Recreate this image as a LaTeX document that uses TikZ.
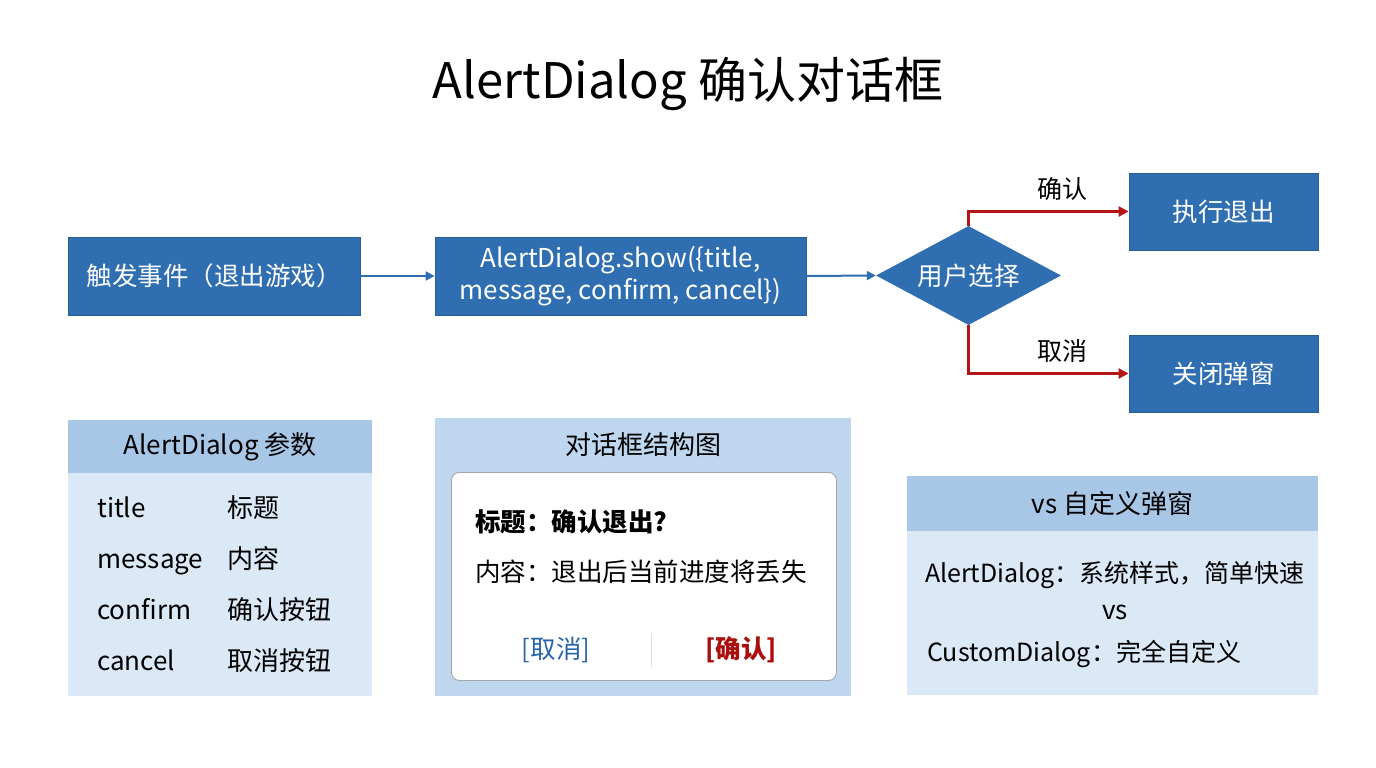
\documentclass[tikz,border=0pt]{standalone}
\usepackage{fontspec}
\setmainfont{Noto Sans CJK SC}
\usetikzlibrary{shapes.geometric,arrows.meta}
\definecolor{boxblue}{RGB}{47,110,176}
\definecolor{hdrblue}{RGB}{168,199,230}
\definecolor{bodyblue}{RGB}{219,232,245}
\definecolor{midblue}{RGB}{190,215,238}
\definecolor{arrred}{RGB}{180,20,20}
\definecolor{btnblue}{RGB}{40,100,170}
\definecolor{btnred}{RGB}{170,15,15}
\newcommand{\fs}[1]{\fontsize{#1pt}{\dimexpr#1pt*6/5\relax}\selectfont}
\tikzset{
  flowbox/.style={draw=boxblue!85!black, line width=0.8pt, fill=boxblue, text=white, font=\fs{25.5}, inner sep=0pt, align=center},
  decide/.style={diamond, aspect=1.87, fill=boxblue, text=white, font=\fs{25.5}, inner sep=0pt, minimum width=185pt, minimum height=99pt},
  blueline/.style={draw=boxblue, line width=2pt, -{Triangle[length=9pt,width=9pt]}},
  redline/.style={draw=arrred, line width=2.4pt, -{Triangle[length=10pt,width=10pt]}},
  lbl/.style={font=\fs{25}, text=black, inner sep=0pt},
  txt/.style={font=\fs{26}, text=black, inner sep=0pt, anchor=base west},
  hdrtxt/.style={font=\fs{26}, text=black, inner sep=0pt},
}
\begin{document}
\begin{tikzpicture}[x=1pt,y=-1pt]
\useasboundingbox[fill=white] (0,0) rectangle (1376,768);
% title
\node[font=\fs{49}, inner sep=0pt] (title) at (688,84) {AlertDialog 确认对话框};
% flow
\node[flowbox, minimum width=292pt, minimum height=78pt] (b1) at (214,276) {触发事件（退出游戏）};
\node[flowbox, font=\fontsize{26pt}{32pt}\selectfont, minimum width=371pt, minimum height=78pt] (b2) at (620.5,276) {AlertDialog.show(\{title,\\message, confirm, cancel\})};
\node[decide] (d) at (968.5,275.5) {用户选择};
\node[flowbox, minimum width=189pt, minimum height=77pt] (b3) at (1223.5,211.5) {执行退出};
\node[flowbox, minimum width=189pt, minimum height=77pt] (b4) at (1223.5,373.5) {关闭弹窗};
\draw[blueline] (b1.east) -- (b2.west);
\draw[blueline] (b2.east) -- (d.west);
\draw[redline] (d.north) |- (b3.west);
\draw[redline] (d.south) |- (b4.west);
\node[lbl] (l1) at (1062,189) {确认};
\node[lbl] (l2) at (1062,351) {取消};
% panel 1
\node[fill=bodyblue, minimum width=304pt, minimum height=276pt, inner sep=0pt, anchor=north west] (p1) at (68,420) {};
\node[fill=hdrblue, minimum width=304pt, minimum height=53pt, inner sep=0pt, anchor=north west] (p1h) at (68,420) {};
\node[hdrtxt] (p1t) at (p1h.center) {AlertDialog 参数};
\node[txt] (r1a) at (97,517) {title};
\node[txt] (r1b) at (227,517) {标题};
\node[txt] (r2a) at (97,568) {message};
\node[txt] (r2b) at (227,568) {内容};
\node[txt] (r3a) at (97,619) {confirm};
\node[txt] (r3b) at (227,619) {确认按钮};
\node[txt] (r4a) at (97,670) {cancel};
\node[txt] (r4b) at (227,670) {取消按钮};
% panel 2
\node[fill=midblue, minimum width=416pt, minimum height=278pt, inner sep=0pt, anchor=north west] (p2) at (435,418) {};
\node[hdrtxt] (p2t) at (643,445) {对话框结构图};
\node[draw=gray!70, line width=0.9pt, fill=white, rounded corners=8pt, minimum width=385pt, minimum height=208pt, inner sep=0pt, anchor=north west] (dlg) at (451,472) {};
\node[txt, font=\fs{25.5}\bfseries] (dt) at (475,531) {标题：确认退出?};
\node[txt, font=\fs{25.5}] (dm) at (475,581) {内容：退出后当前进度将丢失};
\node[font=\fs{25.5}, text=btnblue, inner sep=0pt] (bc) at (556,650) {[取消]};
\node[font=\fs{25.5}\bfseries, text=btnred, inner sep=0pt] (bo) at (741,650) {[确认]};
\coordinate (sepT) at (651,633);
\coordinate (sepB) at (651,667);
\draw[gray!25, line width=1pt] (sepT) -- (sepB);
% panel 3
\node[fill=bodyblue, minimum width=411pt, minimum height=219pt, inner sep=0pt, anchor=north west] (p3) at (907,476) {};
\node[fill=hdrblue, minimum width=411pt, minimum height=55pt, inner sep=0pt, anchor=north west] (p3h) at (907,476) {};
\node[hdrtxt] (p3t) at (p3h.center) {vs 自定义弹窗};
\node[txt, font=\fs{25}, anchor=base] (c1) at (1115,582) {AlertDialog：系统样式，简单快速};
\node[hdrtxt] (c2) at (1115,612) {vs};
\node[txt, font=\fs{25}] (c3) at (927,661) {CustomDialog：完全自定义};
\end{tikzpicture}
\end{document}
